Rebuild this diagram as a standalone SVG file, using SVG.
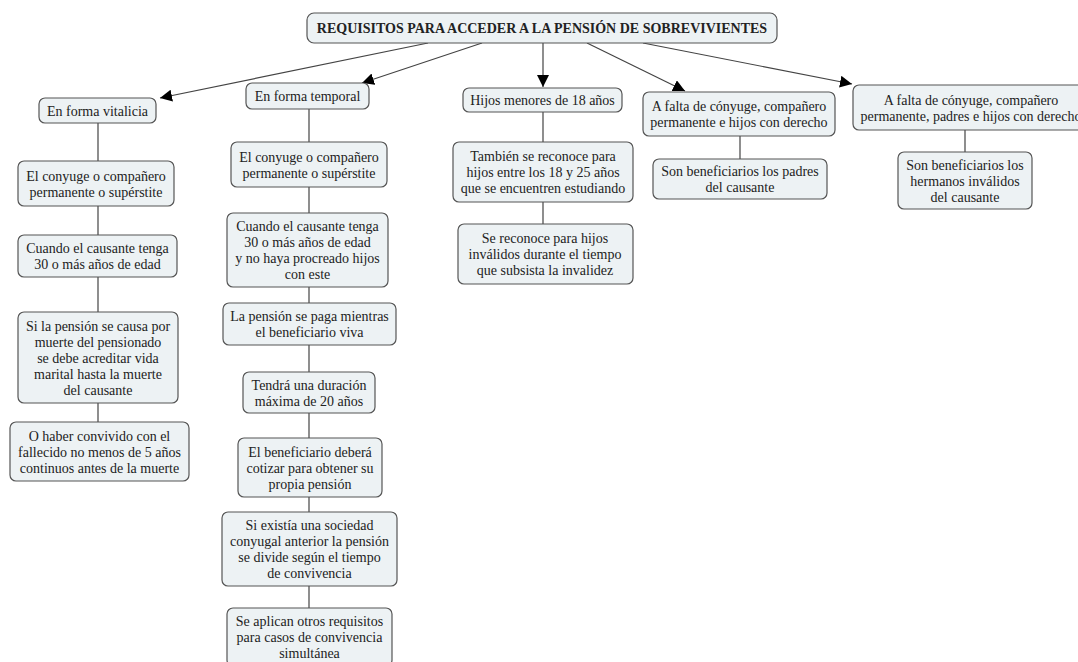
<svg xmlns="http://www.w3.org/2000/svg" width="1078" height="662" viewBox="0 0 1078 662">
<style>
.n rect{fill:#edf2f4;stroke:#555;stroke-width:1.2}
.n text{font-family:'Liberation Serif','Times New Roman','DejaVu Serif',serif;font-size:14px;fill:#222;text-anchor:middle}
.t text{font-weight:bold;font-size:14px}
.c line{stroke:#444;stroke-width:1.2}
.c .a{marker-end:url(#ah)}
</style>
<defs>
<marker id="ah" markerUnits="userSpaceOnUse" markerWidth="14" markerHeight="12" refX="12" refY="6" orient="auto"><path d="M0,0 L12,6 L0,12 z" fill="#000"/></marker>
</defs>
<rect width="1078" height="662" fill="#fff"/>
<g class="c" id="connectors">
<line class="a" x1="428" y1="43" x2="160" y2="98"/>
<line class="a" x1="482" y1="43" x2="362" y2="83"/>
<line class="a" x1="543" y1="43" x2="543" y2="87"/>
<line class="a" x1="587" y1="43" x2="685" y2="91"/>
<line class="a" x1="643" y1="43" x2="852" y2="84"/>
<line x1="98" y1="123" x2="98" y2="422"/>
<line x1="309" y1="109" x2="309" y2="608"/>
<line x1="543" y1="112" x2="543" y2="224"/>
<line x1="740" y1="136" x2="740" y2="159"/>
<line x1="965" y1="130" x2="965" y2="152"/>
</g>
<g class="n t" id="root" font-family="Liberation Serif, serif"><rect x="307" y="13" width="470" height="30" rx="7"/><text x="542" y="33">REQUISITOS PARA ACCEDER A LA PENSIÓN DE SOBREVIVIENTES</text></g>
<g class="n" id="vitalicia"><rect x="39" y="98" width="117" height="25" rx="6"/><text x="97.5" y="115.5">En forma vitalicia</text></g>
<g class="n" id="v1"><rect x="18" y="161" width="156" height="45" rx="6"/><text x="96" y="180.5">El conyuge o compañero</text><text x="96" y="196.5">permanente o supérstite</text></g>
<g class="n" id="v2"><rect x="18" y="235" width="159" height="42" rx="6"/><text x="97.5" y="253">Cuando el causante tenga</text><text x="97.5" y="269">30 o más años de edad</text></g>
<g class="n" id="v3"><rect x="18" y="312" width="160" height="91" rx="6"/><text x="98" y="330.5">Si la pensión se causa por</text><text x="98" y="346.5">muerte del pensionado</text><text x="98" y="362.5">se debe acreditar vida</text><text x="98" y="378.5">marital hasta la muerte</text><text x="98" y="394.5">del causante</text></g>
<g class="n" id="v4"><rect x="10" y="422" width="179" height="59" rx="6"/><text x="99.5" y="440.5">O haber convivido con el</text><text x="99.5" y="456.5">fallecido no menos de 5 años</text><text x="99.5" y="472.5">continuos antes de la muerte</text></g>
<g class="n" id="temporal"><rect x="246" y="83" width="123" height="26" rx="6"/><text x="307.5" y="101">En forma temporal</text></g>
<g class="n" id="t1"><rect x="231" y="142" width="156" height="45" rx="6"/><text x="309" y="161.5">El conyuge o compañero</text><text x="309" y="177.5">permanente o supérstite</text></g>
<g class="n" id="t2"><rect x="227" y="213" width="161" height="74" rx="6"/><text x="307.5" y="231">Cuando el causante tenga</text><text x="307.5" y="247">30 o más años de edad</text><text x="307.5" y="263">y no haya procreado hijos</text><text x="307.5" y="279">con este</text></g>
<g class="n" id="t3"><rect x="223" y="303" width="173" height="42" rx="6"/><text x="309.5" y="321">La pensión se paga mientras</text><text x="309.5" y="337">el beneficiario viva</text></g>
<g class="n" id="t4"><rect x="243" y="372" width="132" height="41" rx="6"/><text x="309" y="389.5">Tendrá una duración</text><text x="309" y="405.5">máxima de 20 años</text></g>
<g class="n" id="t5"><rect x="238" y="438" width="144" height="59" rx="6"/><text x="310" y="456.5">El beneficiario deberá</text><text x="310" y="472.5">cotizar para obtener su</text><text x="310" y="488.5">propia pensión</text></g>
<g class="n" id="t6"><rect x="222" y="512" width="175" height="74" rx="6"/><text x="309.5" y="530">Si existía una sociedad</text><text x="309.5" y="546">conyugal anterior la pensión</text><text x="309.5" y="562">se divide según el tiempo</text><text x="309.5" y="578">de convivencia</text></g>
<g class="n" id="t7"><rect x="227" y="608" width="165" height="58" rx="6"/><text x="309.5" y="626">Se aplican otros requisitos</text><text x="309.5" y="642">para casos de convivencia</text><text x="309.5" y="658">simultánea</text></g>
<g class="n" id="hijos"><rect x="463" y="88" width="159" height="24" rx="6"/><text x="542.5" y="105">Hijos menores de 18 años</text></g>
<g class="n" id="h1"><rect x="453" y="142" width="180" height="60" rx="6"/><text x="543" y="161">También se reconoce para</text><text x="543" y="177">hijos entre los 18 y 25 años</text><text x="543" y="193">que se encuentren estudiando</text></g>
<g class="n" id="h2"><rect x="458" y="224" width="175" height="60" rx="6"/><text x="545" y="243">Se reconoce para hijos</text><text x="545" y="259">inválidos durante el tiempo</text><text x="545" y="275">que subsista la invalidez</text></g>
<g class="n" id="padres"><rect x="643" y="92" width="192" height="44" rx="6"/><text x="739" y="111">A falta de cónyuge, compañero</text><text x="739" y="127">permanente e hijos con derecho</text></g>
<g class="n" id="p1"><rect x="653" y="159" width="174" height="40" rx="6"/><text x="740" y="176">Son beneficiarios los padres</text><text x="740" y="192">del causante</text></g>
<g class="n" id="hermanos"><rect x="853" y="85" width="236" height="45" rx="6"/><text x="971" y="104.5">A falta de cónyuge, compañero</text><text x="971" y="120.5">permanente, padres e hijos con derecho</text></g>
<g class="n" id="q1"><rect x="898" y="152" width="134" height="57" rx="6"/><text x="965" y="169.5">Son beneficiarios los</text><text x="965" y="185.5">hermanos inválidos</text><text x="965" y="201.5">del causante</text></g>
</svg>
